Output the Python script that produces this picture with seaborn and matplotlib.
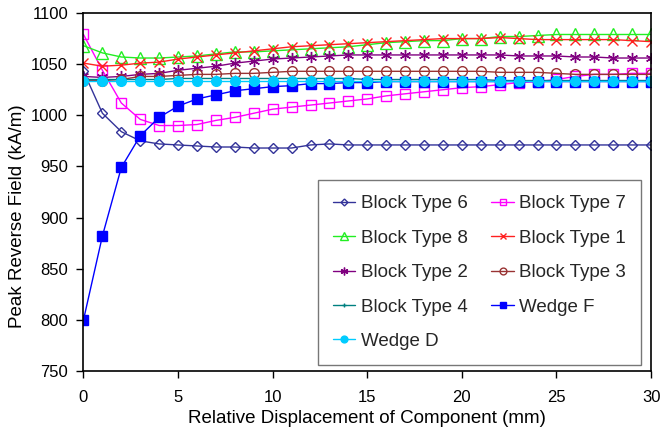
import matplotlib
matplotlib.use("Agg")
import matplotlib.pyplot as plt
import seaborn as sns
import pandas as pd
import numpy as np

sns.set_theme(style="white")
plt.rcParams['font.family'] = ['Liberation Sans', 'DejaVu Sans']

x = list(range(31))

block6 = [1043, 1002, 984, 975, 972, 971, 970, 969, 969, 968, 968, 968, 971, 972, 971,
          971, 971, 971, 971, 971, 971, 971, 971, 971, 971, 971, 971, 971, 971, 971, 971]
block7 = [1079, 1044, 1012, 996, 990, 990, 991, 995, 998, 1002, 1006, 1008, 1010, 1012, 1014,
          1016, 1019, 1021, 1023, 1025, 1027, 1028, 1030, 1032, 1033, 1035, 1038, 1040, 1040, 1041, 1041]
block8 = [1068, 1061, 1057, 1056, 1056, 1057, 1058, 1060, 1062, 1062, 1063, 1064, 1065, 1066, 1067,
          1069, 1071, 1072, 1073, 1073, 1075, 1075, 1077, 1077, 1078, 1079, 1079, 1079, 1079, 1079, 1079]
block1 = [1051, 1048, 1049, 1051, 1052, 1055, 1057, 1059, 1061, 1063, 1065, 1067, 1068, 1069, 1070,
          1071, 1072, 1073, 1074, 1075, 1075, 1075, 1076, 1075, 1074, 1074, 1074, 1074, 1074, 1073, 1072]
block2 = [1038, 1037, 1038, 1040, 1041, 1044, 1046, 1048, 1051, 1053, 1055, 1056, 1057, 1058, 1059,
          1059, 1059, 1059, 1059, 1059, 1059, 1059, 1059, 1058, 1058, 1058, 1057, 1057, 1056, 1056, 1056]
block3 = [1034, 1034, 1035, 1038, 1038, 1039, 1040, 1040, 1041, 1041, 1042, 1043, 1043, 1043, 1043,
          1043, 1043, 1043, 1043, 1043, 1043, 1043, 1042, 1042, 1042, 1041, 1040, 1040, 1040, 1040, 1040]
block4 = [1035, 1035, 1035, 1035, 1035, 1036, 1036, 1036, 1036, 1036, 1036, 1036, 1036, 1036, 1036,
          1035, 1035, 1035, 1035, 1035, 1035, 1035, 1034, 1034, 1034, 1034, 1034, 1034, 1034, 1034, 1034]
wedgeF = [800, 882, 949, 980, 998, 1009, 1016, 1020, 1024, 1026, 1028, 1029, 1031, 1031, 1032,
          1032, 1033, 1033, 1033, 1033, 1033, 1033, 1033, 1033, 1033, 1033, 1033, 1033, 1033, 1033, 1033]
wedgeD = [1034] * 31

series = [
    ("Block Type 6", block6, "#333399", "D", 5, "none"),
    ("Block Type 7", block7, "#FF00FF", "s", 7, "none"),
    ("Block Type 8", block8, "#22EE22", "^", 8, "none"),
    ("Block Type 1", block1, "#FF2020", "x", 7, None),
    ("Block Type 2", block2, "#800080", (6, 2, 0), 8, None),
    ("Block Type 3", block3, "#993333", "o", 7, "none"),
    ("Block Type 4", block4, "#008080", "+", 5, None),
    ("Wedge F", wedgeF, "#0000FF", "s", 7, "#0000FF"),
    ("Wedge D", wedgeD, "#00CCFF", "o", 7, "#00CCFF"),
]

fig = plt.figure(figsize=(6.6, 4.41), dpi=100)
ax = fig.add_axes([0.1265, 0.1587, 0.86, 0.8118])

for name, vals, col, mk, ms, fc in series:
    df = pd.DataFrame({"x": x, "y": vals})
    kw = dict(marker=mk, markersize=ms, markeredgecolor=col, markeredgewidth=1.0)
    if fc is not None:
        kw["markerfacecolor"] = fc
    sns.lineplot(data=df, x="x", y="y", ax=ax, color=col, linewidth=1.0,
                 label=name, **kw)

ax.set_xlim(0, 30)
ax.set_ylim(750, 1100)
ax.set_xticks([0, 5, 10, 15, 20, 25, 30])
ax.set_yticks(range(750, 1101, 50))
ax.set_xlabel("Relative Displacement of Component (mm)", fontsize=13.5, color="black",
              labelpad=3)
ax.set_ylabel("Peak Reverse Field (kA/m)", fontsize=13.5, color="black")
ax.yaxis.set_label_coords(-0.101, 0.433)
ax.tick_params(axis="both", labelsize=12, colors="black", direction="out",
               length=5, width=1, bottom=True, left=True, top=False, right=False)
ax.tick_params(axis="x", pad=9)
ax.tick_params(axis="y", pad=6)
for s in ax.spines.values():
    s.set_color("black")
    s.set_linewidth(1.2)

handles, labels = ax.get_legend_handles_labels()
order = [0, 2, 4, 6, 8, 1, 3, 5, 7]
leg = ax.legend([handles[i] for i in order], [labels[i] for i in order],
                ncol=2, loc="lower left", bbox_to_anchor=(0.413, 0.017),
                borderaxespad=0.0,
                fontsize=13.5, frameon=True, fancybox=False, edgecolor="#555555",
                handlelength=1.2, handletextpad=0.3, columnspacing=1.25,
                labelspacing=0.92, borderpad=0.8, markerscale=0.7)
leg.get_frame().set_linewidth(1.0)

fig.savefig("out.png", dpi=100)
